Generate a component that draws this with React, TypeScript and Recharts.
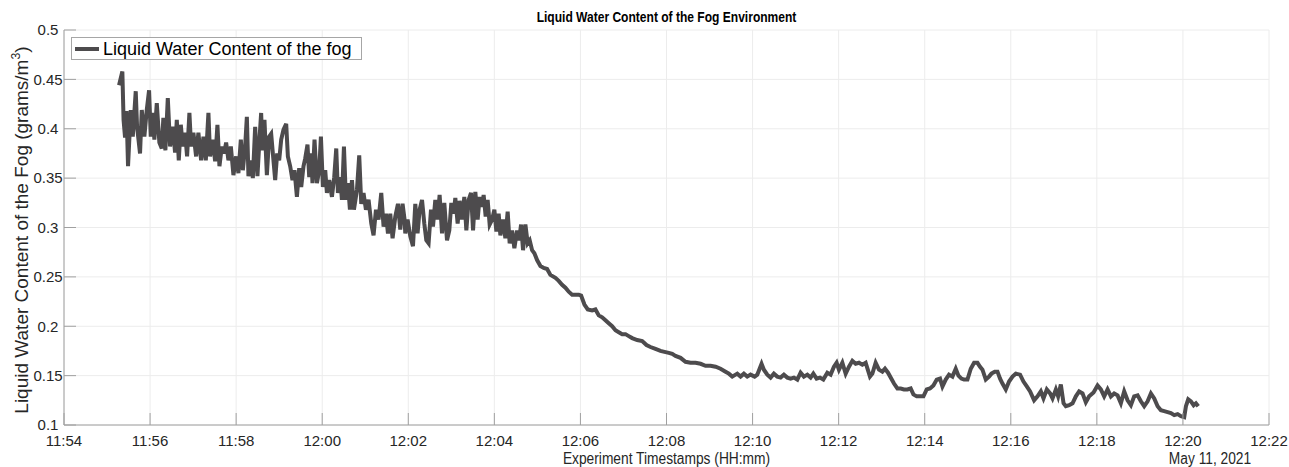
import React from 'react';
import { LineChart, Line, XAxis, YAxis, CartesianGrid } from 'recharts';

// minutes after 11:54 (11 May 2021)
const minutesAfter1154 = [
  1.279, 1.356, 1.384, 1.419, 1.453, 1.488, 1.551, 1.598, 1.667, 1.698, 1.767, 1.807, 1.867, 1.923, 1.977,
  2.016, 2.063, 2.1, 2.156, 2.216, 2.272, 2.309, 2.356, 2.412, 2.465, 2.528, 2.581, 2.621, 2.667, 2.714,
  2.76, 2.814, 2.86, 2.914, 2.953, 3.007, 3.07, 3.123, 3.186, 3.24, 3.295, 3.356, 3.395, 3.458, 3.512,
  3.565, 3.612, 3.667, 3.721, 3.767, 3.821, 3.877, 3.937, 4.0, 4.053, 4.109, 4.156, 4.209, 4.249, 4.286,
  4.342, 4.388, 4.442, 4.495, 4.542, 4.581, 4.612, 4.658, 4.714, 4.767, 4.814, 4.867, 4.907, 4.953, 5.0,
  5.047, 5.1, 5.163, 5.202, 5.256, 5.309, 5.356, 5.412, 5.465, 5.512, 5.565, 5.605, 5.658, 5.698, 5.744,
  5.774, 5.821, 5.877, 5.93, 5.97, 6.016, 6.07, 6.109, 6.163, 6.226, 6.279, 6.326, 6.365, 6.419, 6.458,
  6.505, 6.551, 6.598, 6.644, 6.691, 6.737, 6.807, 6.86, 6.907, 6.96, 7.016, 7.077, 7.14, 7.193, 7.249,
  7.309, 7.372, 7.426, 7.481, 7.528, 7.581, 7.635, 7.698, 7.76, 7.814, 7.867, 7.914, 7.93, 7.984, 8.047,
  8.109, 8.163, 8.216, 8.263, 8.319, 8.372, 8.419, 8.472, 8.528, 8.574, 8.628, 8.681, 8.728, 8.784, 8.837,
  8.9, 8.953, 9.0, 9.053, 9.093, 9.147, 9.193, 9.249, 9.302, 9.349, 9.402, 9.458, 9.505, 9.558, 9.612,
  9.658, 9.714, 9.751, 9.798, 9.844, 9.891, 9.947, 10.0, 10.047, 10.1, 10.14, 10.202, 10.256, 10.309, 10.356,
  10.412, 10.465, 10.528, 10.574, 10.621, 10.667, 10.721, 10.774, 10.821, 10.877, 10.93, 10.993, 11.07, 11.147, 11.226,
  11.302, 11.419, 11.495, 11.574, 11.651, 11.728, 11.807, 11.884, 11.96, 12.016, 12.093, 12.17, 12.272, 12.349, 12.426,
  12.505, 12.581, 12.658, 12.737, 12.814, 12.891, 12.97, 13.047, 13.123, 13.202, 13.319, 13.435, 13.535, 13.628, 13.744,
  13.86, 13.953, 14.053, 14.133, 14.209, 14.326, 14.442, 14.558, 14.674, 14.791, 14.907, 15.023, 15.14, 15.256, 15.372,
  15.449, 15.528, 15.644, 15.721, 15.798, 15.877, 15.953, 16.047, 16.109, 16.209, 16.263, 16.342, 16.419, 16.495, 16.574,
  16.651, 16.728, 16.807, 16.884, 16.96, 17.04, 17.116, 17.193, 17.272, 17.349, 17.412, 17.488, 17.565, 17.644, 17.737,
  17.814, 17.891, 17.953, 18.007, 18.086, 18.163, 18.24, 18.319, 18.395, 18.472, 18.551, 18.628, 18.728, 18.784, 18.86,
  18.937, 19.016, 19.077, 19.147, 19.286, 19.365, 19.442, 19.519, 19.598, 19.674, 19.737, 19.814, 19.891, 19.97, 20.047,
  20.123, 20.202, 20.279, 20.356, 20.412, 20.488, 20.565, 20.644, 20.721, 20.784, 20.853, 20.914, 20.993, 21.07, 21.147,
  21.226, 21.286, 21.342, 21.419, 21.495, 21.551, 21.628, 21.691, 21.751, 21.807, 21.884, 21.96, 22.04, 22.116, 22.216,
  22.295, 22.372, 22.449, 22.542, 22.621, 22.698, 22.76, 22.837, 22.914, 22.97, 23.047, 23.1, 23.163, 23.226, 23.279,
  23.356, 23.435, 23.512, 23.588, 23.667, 23.744, 23.821, 23.923, 24.016, 24.093, 24.17, 24.249, 24.326, 24.402, 24.481,
  24.558, 24.635, 24.714, 24.791, 24.867, 24.947, 25.023, 25.1, 25.179, 25.256, 25.333, 25.412, 25.488, 25.565, 25.644,
  25.721, 25.798, 25.877, 25.953, 26.03, 26.07, 26.123, 26.186, 26.249, 26.302, 26.356,
];

// liquid water content, grams/m^3
const lwcValues = [
  0.444, 0.458, 0.409, 0.391, 0.418, 0.362, 0.419, 0.392, 0.438, 0.402, 0.375, 0.419, 0.392, 0.419, 0.439,
  0.392, 0.416, 0.389, 0.426, 0.386, 0.38, 0.411, 0.378, 0.431, 0.382, 0.402, 0.376, 0.409, 0.368, 0.404,
  0.382, 0.396, 0.372, 0.416, 0.382, 0.396, 0.372, 0.396, 0.368, 0.392, 0.368, 0.416, 0.372, 0.389, 0.367,
  0.404, 0.362, 0.382, 0.375, 0.386, 0.368, 0.382, 0.353, 0.372, 0.355, 0.389, 0.358, 0.382, 0.412, 0.352,
  0.368, 0.35, 0.402, 0.352, 0.389, 0.416, 0.378, 0.409, 0.353, 0.392, 0.395, 0.368, 0.348, 0.375, 0.368,
  0.389, 0.399, 0.405, 0.372, 0.362, 0.348, 0.358, 0.331, 0.36, 0.341, 0.362, 0.37, 0.384, 0.351, 0.375,
  0.345, 0.389, 0.345, 0.358, 0.392, 0.341, 0.358, 0.335, 0.348, 0.331, 0.351, 0.38, 0.335, 0.351, 0.328,
  0.382, 0.328, 0.345, 0.318, 0.348, 0.318, 0.338, 0.373, 0.324, 0.335, 0.318, 0.328, 0.304, 0.292, 0.318,
  0.308, 0.335, 0.301, 0.314, 0.294, 0.314, 0.289, 0.311, 0.324, 0.298, 0.324, 0.308, 0.294, 0.308, 0.291,
  0.281, 0.324, 0.294, 0.318, 0.328, 0.304, 0.287, 0.284, 0.318, 0.301, 0.328, 0.308, 0.333, 0.294, 0.325,
  0.287, 0.297, 0.325, 0.314, 0.33, 0.304, 0.327, 0.308, 0.331, 0.297, 0.328, 0.335, 0.297, 0.336, 0.308,
  0.331, 0.321, 0.333, 0.311, 0.328, 0.303, 0.308, 0.318, 0.296, 0.314, 0.292, 0.308, 0.289, 0.316, 0.284,
  0.297, 0.279, 0.297, 0.287, 0.303, 0.277, 0.303, 0.284, 0.287, 0.277, 0.274, 0.267, 0.261, 0.259, 0.258,
  0.252, 0.249, 0.246, 0.242, 0.239, 0.235, 0.232, 0.232, 0.232, 0.231, 0.222, 0.217, 0.216, 0.217, 0.211,
  0.209, 0.206, 0.203, 0.2, 0.196, 0.194, 0.192, 0.192, 0.19, 0.188, 0.186, 0.185, 0.181, 0.179, 0.177,
  0.175, 0.174, 0.173, 0.172, 0.17, 0.168, 0.164, 0.163, 0.163, 0.162, 0.16, 0.16, 0.159, 0.157, 0.154,
  0.152, 0.149, 0.152, 0.149, 0.152, 0.149, 0.151, 0.149, 0.151, 0.162, 0.156, 0.151, 0.148, 0.152, 0.149,
  0.148, 0.151, 0.148, 0.147, 0.148, 0.146, 0.153, 0.149, 0.151, 0.148, 0.152, 0.147, 0.148, 0.146, 0.153,
  0.151, 0.159, 0.163, 0.156, 0.163, 0.152, 0.159, 0.165, 0.162, 0.163, 0.161, 0.163, 0.149, 0.152, 0.163,
  0.156, 0.154, 0.157, 0.153, 0.142, 0.137, 0.137, 0.136, 0.136, 0.137, 0.131, 0.129, 0.129, 0.129, 0.136,
  0.137, 0.14, 0.146, 0.147, 0.139, 0.146, 0.151, 0.149, 0.157, 0.15, 0.147, 0.146, 0.146, 0.157, 0.163,
  0.163, 0.159, 0.156, 0.146, 0.149, 0.152, 0.154, 0.154, 0.147, 0.142, 0.136, 0.144, 0.149, 0.152, 0.151,
  0.144, 0.139, 0.134, 0.125, 0.129, 0.134, 0.127, 0.136, 0.132, 0.127, 0.136, 0.129, 0.141, 0.122, 0.119,
  0.12, 0.122, 0.129, 0.134, 0.132, 0.123, 0.129, 0.133, 0.14, 0.136, 0.129, 0.136, 0.129, 0.132, 0.13,
  0.122, 0.134, 0.125, 0.12, 0.129, 0.13, 0.124, 0.119, 0.124, 0.132, 0.127, 0.119, 0.115, 0.114, 0.113,
  0.112, 0.11, 0.111, 0.109, 0.108, 0.119, 0.126, 0.124, 0.12, 0.122, 0.119,
];

const xTicks = [0, 2, 4, 6, 8, 10, 12, 14, 16, 18, 20, 22, 24, 26, 28];
const yTicks = [0.1, 0.15, 0.2, 0.25, 0.3, 0.35, 0.4, 0.45, 0.5];

const data = minutesAfter1154.map((t, i) => ({ t, lwc: lwcValues[i] }));

const fmtTime = (m: number) => {
  const total = 11 * 60 + 54 + m;
  const h = Math.floor(total / 60);
  const mm = total % 60;
  return `${h}:${String(mm).padStart(2, '0')}`;
};
const fmtY = (v: number) => String(Math.round(v * 100) / 100);

const LINE = '#4d4b4d';
const AXIS = '#a0a0a0';
const TEXT = '#262626';

// horizontal text in the reference is a bit narrow for its height
const squeeze = (origin: string): React.CSSProperties => ({
  transform: 'scaleX(0.86)',
  transformOrigin: origin,
});

export default function App() {
  return (
    <div
      style={{
        position: 'absolute',
        left: 0,
        top: 0,
        width: 1289,
        height: 467,
        background: '#fff',
        fontFamily: '"Liberation Sans", Arial, Helvetica, sans-serif',
        color: TEXT,
      }}
    >
      <LineChart width={1289} height={467} data={data} margin={{ top: 30, right: 20, bottom: 0, left: 0 }}>
        <CartesianGrid stroke="#ececec" />
        <XAxis
          dataKey="t"
          type="number"
          domain={[0, 28]}
          ticks={xTicks}
          interval={0}
          tickFormatter={fmtTime}
          height={42}
          tickSize={-12}
          tickMargin={22}
          stroke={AXIS}
          tick={{ fill: TEXT, fontSize: 15 }}
          allowDataOverflow
        />
        <XAxis
          xAxisId="top"
          orientation="top"
          type="number"
          domain={[0, 28]}
          ticks={xTicks}
          interval={0}
          height={0}
          tickSize={-12}
          tick={false}
          stroke={AXIS}
          allowDataOverflow
        />
        <YAxis
          type="number"
          domain={[0.1, 0.5]}
          ticks={yTicks}
          interval={0}
          tickFormatter={fmtY}
          width={64}
          tickSize={-12}
          tickMargin={28}
          stroke={AXIS}
          tick={{ fill: TEXT, fontSize: 15, textAnchor: 'middle' }}
          allowDataOverflow
        />
        <YAxis
          yAxisId="right"
          orientation="right"
          type="number"
          domain={[0.1, 0.5]}
          ticks={yTicks}
          interval={0}
          width={0}
          tickSize={-12}
          tick={false}
          stroke={AXIS}
          allowDataOverflow
        />
        <Line
          type="linear"
          dataKey="lwc"
          stroke={LINE}
          strokeWidth={4}
          dot={false}
          isAnimationActive={false}
        />
      </LineChart>

      {/* title */}
      <div
        style={{
          position: 'absolute',
          left: 64,
          width: 1205,
          top: 10,
          textAlign: 'center',
          fontWeight: 'bold',
          fontSize: 14,
          lineHeight: '15px',
          color: '#000',
          ...squeeze('666px 50%'),
          transformOrigin: '50% 50%',
        }}
      >
        Liquid Water Content of the Fog Environment
      </div>

      {/* legend */}
      <div
        style={{
          position: 'absolute',
          left: 71,
          top: 37,
          width: 291,
          height: 23,
          border: '1px solid #a6a6a6',
          background: '#fff',
          display: 'flex',
          alignItems: 'center',
          boxSizing: 'border-box',
        }}
      >
        <span style={{ display: 'inline-block', width: 24, height: 4, background: LINE, marginLeft: 3, marginRight: 4 }} />
        <span style={{ fontSize: 18, lineHeight: '20px', color: '#000', whiteSpace: 'nowrap' }}>
          Liquid Water Content of the fog
        </span>
      </div>

      {/* y label */}
      <div
        style={{
          position: 'absolute',
          left: 19,
          top: 230,
          transform: 'translate(-50%, -50%) rotate(-90deg)',
          whiteSpace: 'nowrap',
          fontSize: 19,
          lineHeight: '20px',
        }}
      >
        Liquid Water Content of the Fog (grams/m<sup style={{ fontSize: '0.65em' }}>3</sup>)
      </div>

      {/* x label */}
      <div
        style={{
          position: 'absolute',
          left: 64,
          width: 1205,
          top: 451,
          textAlign: 'center',
          fontSize: 16,
          lineHeight: '16px',
          ...squeeze('50% 50%'),
        }}
      >
        Experiment Timestamps (HH:mm)
      </div>
      <div
        style={{
          position: 'absolute',
          left: 1150,
          width: 120,
          top: 451,
          textAlign: 'center',
          fontSize: 16,
          lineHeight: '16px',
          ...squeeze('50% 50%'),
        }}
      >
        May 11, 2021
      </div>
    </div>
  );
}
